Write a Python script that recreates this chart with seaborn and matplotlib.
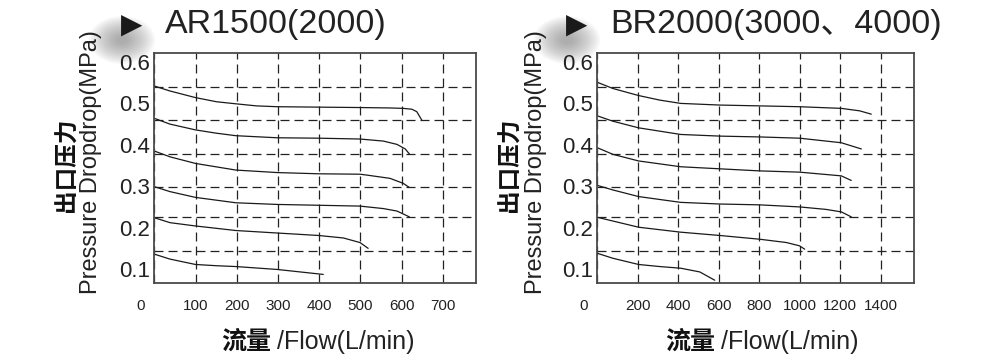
import pandas as pd
import seaborn as sns
import matplotlib.pyplot as plt
from matplotlib.patches import Ellipse
from matplotlib.transforms import ScaledTranslation

# AR1500(2000): flow (L/min) and outlet pressure (MPa), one list per curve
ar_flow = [
    [0, 38, 100, 151, 198, 248, 298, 399, 499, 572, 604, 625, 637, 643, 649],
    [0, 38, 100, 151, 198, 298, 399, 499, 556, 589, 609, 619],
    [0, 38, 100, 198, 298, 399, 499, 515, 572, 604, 619],
    [0, 38, 100, 198, 298, 399, 499, 556, 589, 619],
    [0, 38, 100, 198, 298, 399, 459, 499, 519],
    [0, 38, 100, 151, 198, 298, 354, 410],
]
ar_press = [
    [0.542, 0.530, 0.514, 0.504, 0.499, 0.494, 0.492, 0.491, 0.490, 0.489, 0.488, 0.486, 0.480, 0.470, 0.460],
    [0.464, 0.450, 0.436, 0.428, 0.422, 0.417, 0.416, 0.414, 0.409, 0.401, 0.390, 0.378],
    [0.385, 0.371, 0.355, 0.339, 0.333, 0.330, 0.329, 0.327, 0.319, 0.307, 0.297],
    [0.299, 0.287, 0.273, 0.260, 0.256, 0.254, 0.252, 0.246, 0.240, 0.226],
    [0.224, 0.212, 0.204, 0.193, 0.187, 0.181, 0.175, 0.164, 0.150],
    [0.136, 0.124, 0.111, 0.108, 0.106, 0.099, 0.093, 0.087],
]

# BR2000(3000、4000)
br_flow = [
    [0, 77, 204, 308, 412, 606, 802, 999, 1205, 1296, 1353],
    [0, 77, 204, 412, 606, 802, 999, 1205, 1304],
    [0, 77, 204, 412, 606, 802, 999, 1205, 1254],
    [0, 77, 204, 412, 606, 802, 999, 1130, 1205, 1254],
    [0, 204, 412, 606, 802, 934, 999, 1024],
    [0, 77, 204, 308, 412, 506, 580],
]
br_press = [
    [0.551, 0.536, 0.519, 0.508, 0.500, 0.496, 0.494, 0.492, 0.488, 0.482, 0.474],
    [0.470, 0.457, 0.441, 0.425, 0.421, 0.419, 0.416, 0.405, 0.390],
    [0.393, 0.377, 0.361, 0.347, 0.342, 0.337, 0.334, 0.325, 0.314],
    [0.302, 0.291, 0.275, 0.261, 0.257, 0.255, 0.250, 0.244, 0.238, 0.226],
    [0.225, 0.201, 0.189, 0.181, 0.172, 0.164, 0.156, 0.148],
    [0.138, 0.126, 0.111, 0.106, 0.102, 0.093, 0.073],
]

ar_xticks = [0, 100, 200, 300, 400, 500, 600, 700]
br_xticks = [0, 200, 400, 600, 800, 1000, 1200, 1400]
yticks = [0.1, 0.2, 0.3, 0.4, 0.5, 0.6]
# the dashed horizontal grid does not sit on the labelled values
grid_y = [0.144, 0.226, 0.298, 0.377, 0.459, 0.539]

sns.set_style('white')
plt.rcParams['font.family'] = ['Liberation Sans', 'Noto Sans CJK SC', 'DejaVu Sans']

fig = plt.figure(figsize=(10, 3.6), dpi=100)
W, H = 1000, 360


def fx(x):
    return x / W


def fy(y):
    return 1 - y / H


def to_df(flows, press):
    rows = []
    for i, (f, p) in enumerate(zip(flows, press)):
        for a, b in zip(f, p):
            rows.append({'curve': i, 'flow': a, 'pressure': b})
    return pd.DataFrame(rows)


def panel(left, right, flows, press, xticks, xmax):
    ax = fig.add_axes([fx(left), fy(282.7), fx(right - left), (282.7 - 53.3) / H])
    df = to_df(flows, press)
    sns.lineplot(data=df, x='flow', y='pressure', units='curve', estimator=None,
                 sort=False, color='#1a1a1a', lw=0.9, ax=ax)
    ax.set_xlim(0, xmax)
    ax.set_ylim(0.067, 0.621)
    ax.set_xticks(xticks, labels=[str(t) for t in xticks])
    ax.set_yticks(yticks, labels=[f'{t:.1f}' for t in yticks])
    ax.set_yticks(grid_y, minor=True)
    ax.grid(False)
    ax.grid(True, axis='x', which='major', color='#222', lw=0.9, ls=(0, (7.2, 4)))
    ax.grid(True, axis='y', which='minor', color='#222', lw=0.9, ls=(0, (7.2, 4)))
    ax.tick_params(axis='y', which='both', length=0, pad=3, labelsize=16, labelcolor='#222')
    ax.tick_params(axis='x', length=0, pad=12, labelsize=11, labelcolor='#222')
    ax.set_xlabel('')
    ax.set_ylabel('')
    for s in ax.spines.values():
        s.set_visible(True)
        s.set_color('#4a4a4a')
        s.set_linewidth(1.3)
    for lab in ax.get_xticklabels():
        if lab.get_text() == '0':
            lab.set_transform(lab.get_transform() + ScaledTranslation(-0.14, 0, fig.dpi_scale_trans))
    return ax


panel(154.3, 475.7, ar_flow, ar_press, ar_xticks, 780)
panel(597.3, 914, br_flow, br_press, br_xticks, 1564)


def header(tri_x, text_x, title):
    # soft grey glow behind the arrow
    for k in range(14):
        w = 66 - k * 4.2
        fig.add_artist(Ellipse((fx(tri_x - 10), fy(40)), w / W, (w * 0.72) / H,
                               color='#7a7a7a', alpha=0.06, lw=0, zorder=0))
    fig.text(fx(tri_x), fy(25), '\u25B6', fontsize=20, color='#1a1a1a',
             ha='center', va='center', family=['DejaVu Sans'])
    fig.text(fx(text_x), fy(24), title, fontsize=24.5, color='#222',
             ha='left', va='center')


header(132, 165, 'AR1500(2000)')
header(577, 610, 'BR2000(3000、4000)')


def ylabels(cjk_x, en_x):
    fig.text(fx(cjk_x), fy(165), '出口压力', rotation=90, fontsize=17, fontweight='bold',
             color='#111', ha='center', va='center', family=['Noto Sans CJK SC'])
    fig.text(fx(en_x), fy(162), 'Pressure Dropdrop(MPa)', rotation=90, fontsize=17,
             color='#222', ha='center', va='center')


ylabels(67, 91)
ylabels(510, 536)


def xlabel(split_x):
    fig.text(fx(split_x - 6), fy(342), '流量', fontsize=18, fontweight='bold', color='#111',
             ha='right', va='center', family=['Noto Sans CJK SC'])
    fig.text(fx(split_x), fy(342), '/Flow(L/min)', fontsize=18, color='#222',
             ha='left', va='center')


xlabel(277)
xlabel(721)

fig.savefig('out.png', dpi=100)
